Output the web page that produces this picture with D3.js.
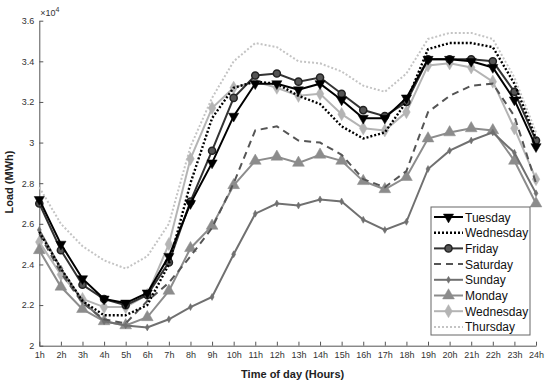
<!DOCTYPE html>
<html>
<head>
<meta charset="utf-8">
<script src="https://cdn.jsdelivr.net/npm/d3@7"></script>
<style>
  body { margin: 0; background: #fff; }
  svg { font-family: "Liberation Sans", Arial, sans-serif; }
  .axis path, .axis line { stroke: #555; }
  .axis text { fill: #333; font-size: 9px; }
  .axtitle { font-size: 11px; font-weight: bold; fill: #222; }
  .legtext { font-size: 12px; fill: #111; }
</style>
</head>
<body>
<svg id="chartsvg" width="550" height="383"></svg>
<script>
// hour labels along the x axis
var hours = ["1h","2h","3h","4h","5h","6h","7h","8h","9h","10h","11h","12h",
	"13h","14h","15h","16h","17h","18h","19h","20h","21h","22h","23h","24h"];
var yTicks = [2, 2.2, 2.4, 2.6, 2.8, 3, 3.2, 3.4, 3.6];

// load values in units of 10^4 MWh
var tuesday    = [2.72,2.50,2.33,2.23,2.21,2.26,2.44,2.70,2.90,3.13,3.29,3.29,3.26,3.29,3.21,3.12,3.12,3.22,3.41,3.41,3.40,3.37,3.21,2.98];
var wednesday  = [2.56,2.38,2.22,2.15,2.15,2.20,2.40,2.80,3.12,3.27,3.30,3.29,3.23,3.19,3.08,3.02,3.05,3.20,3.46,3.49,3.49,3.47,3.29,3.02];
var friday     = [2.70,2.47,2.30,2.23,2.20,2.25,2.41,2.71,2.96,3.22,3.33,3.34,3.30,3.32,3.24,3.16,3.13,3.20,3.41,3.41,3.41,3.40,3.25,3.01];
var saturday   = [2.55,2.36,2.21,2.13,2.11,2.22,2.31,2.44,2.58,2.80,3.06,3.08,3.01,3.00,2.94,2.82,2.78,2.86,3.15,3.23,3.28,3.29,3.13,2.80];
var sunday     = [2.57,2.38,2.22,2.12,2.10,2.09,2.13,2.19,2.24,2.45,2.65,2.70,2.69,2.72,2.71,2.62,2.57,2.61,2.87,2.96,3.01,3.05,2.95,2.75];
var monday     = [2.47,2.29,2.18,2.12,2.10,2.14,2.27,2.48,2.59,2.79,2.91,2.93,2.90,2.94,2.91,2.81,2.77,2.83,3.02,3.05,3.07,3.06,2.91,2.70];
var wednesday2 = [2.51,2.35,2.23,2.19,2.19,2.25,2.50,2.92,3.17,3.27,3.30,3.27,3.23,3.24,3.14,3.07,3.06,3.15,3.38,3.39,3.37,3.30,3.07,2.82];
var thursday   = [2.78,2.60,2.49,2.42,2.38,2.44,2.60,2.98,3.22,3.40,3.49,3.47,3.40,3.39,3.35,3.28,3.25,3.34,3.51,3.54,3.54,3.51,3.32,3.05];

var seriesNames = ["Tuesday","Wednesday","Friday","Saturday","Sunday","Monday","Wednesday","Thursday"];

// drawing style per series (same order as seriesNames)
var styles = [
	{data: tuesday,    color: "#000",    width: 2,   dash: null,  marker: "triDown", msize: 45, fill: "#000",    mstroke: "#000"},
	{data: wednesday,  color: "#000",    width: 2.4, dash: "2,2", marker: null},
	{data: friday,     color: "#333",    width: 2,   dash: null,  marker: "circle",  msize: 40, fill: "#555",    mstroke: "#222"},
	{data: saturday,   color: "#555",    width: 2,   dash: "7,5", marker: null},
	{data: sunday,     color: "#707070", width: 2,   dash: null,  marker: "plus",    msize: 14, fill: "#707070", mstroke: "#707070"},
	{data: monday,     color: "#8c8c8c", width: 2,   dash: null,  marker: "triUp",   msize: 60, fill: "#8c8c8c", mstroke: "#8c8c8c"},
	{data: wednesday2, color: "#b4b4b4", width: 2,   dash: null,  marker: "diamond", msize: 50, fill: "#b4b4b4", mstroke: "#b4b4b4"},
	{data: thursday,   color: "#c4c4c4", width: 2,   dash: "2,2", marker: null}
];

var svg = d3.select("#chartsvg");

var x = d3.scaleLinear().domain([1, 24]).range([39.3, 536]);
var y = d3.scaleLinear().domain([2, 3.6]).range([345.7, 20.7]);

// axes: ticks point inwards, no box
var xAxis = d3.axisBottom(x)
	.tickValues(d3.range(1, 25))
	.tickFormat(function(d) { return hours[d - 1]; })
	.tickSizeInner(-4).tickSizeOuter(0).tickPadding(6);
var yAxis = d3.axisLeft(y)
	.tickValues(yTicks)
	.tickFormat(d3.format("~g"))
	.tickSizeInner(-4).tickSizeOuter(0).tickPadding(5);

svg.append("g").attr("class", "axis")
	.attr("transform", "translate(0," + y(2) + ")")
	.call(xAxis);
svg.append("g").attr("class", "axis")
	.attr("transform", "translate(" + x(1) + ",0)")
	.call(yAxis);

// exponent label above the y axis
var expo = svg.append("text").attr("x", x(1) + 1).attr("y", 16)
	.style("font-size", "9px").style("fill", "#333");
expo.append("tspan").text("\u00d710");
expo.append("tspan").attr("dy", -4).style("font-size", "7px").text("4");

// axis titles
svg.append("text").attr("class", "axtitle")
	.attr("x", (x(1) + x(24)) / 2 + 5).attr("y", 378)
	.attr("text-anchor", "middle")
	.text("Time of day (Hours)");
svg.append("text").attr("class", "axtitle")
	.attr("transform", "translate(13," + 182 + ")rotate(-90)")
	.attr("text-anchor", "middle")
	.text("Load (MWh)");

function symbolFor(m, size) {
	if (m === "triDown" || m === "triUp") return d3.symbol().type(d3.symbolTriangle).size(size)();
	if (m === "circle") return d3.symbol().type(d3.symbolCircle).size(size)();
	if (m === "diamond") return d3.symbol().type(d3.symbolDiamond).size(size)();
	if (m === "plus") return d3.symbol().type(d3.symbolDiamond).size(size)();
	return null;
}

var line = d3.line()
	.x(function(d, i) { return x(i + 1); })
	.y(function(d) { return y(d); });

// draw in reverse so the dark series sit on top
var plot = svg.append("g").attr("class", "chart");
styles.slice().reverse().forEach(function(s) {
	var g = plot.append("g");
	g.append("path")
		.datum(s.data)
		.attr("fill", "none")
		.attr("stroke", s.color)
		.attr("stroke-width", s.width)
		.attr("stroke-dasharray", s.dash)
		.attr("d", line);
	if (s.marker) {
		var path = symbolFor(s.marker, s.msize);
		g.selectAll("path.mk").data(s.data).enter().append("path")
			.attr("class", "mk")
			.attr("d", path)
			.attr("fill", s.fill)
			.attr("stroke", s.mstroke)
			.attr("stroke-width", s.marker === "circle" ? 1.5 : 0.5)
			.attr("transform", function(d, i) {
				return "translate(" + x(i + 1) + "," + y(d) + ")" + (s.marker === "triDown" ? "rotate(180)" : "");
			});
	}
});

// legend
var leg = svg.append("g").attr("class", "legbox").attr("transform", "translate(431,207)");
leg.append("rect").attr("width", 99).attr("height", 128)
	.attr("fill", "#fff").attr("stroke", "#666").attr("stroke-width", 1);
styles.forEach(function(s, i) {
	var ly = 10 + i * 15.7;
	var row = leg.append("g").attr("transform", "translate(0," + ly + ")");
	row.append("line").attr("x1", 3).attr("x2", 32).attr("y1", 0).attr("y2", 0)
		.attr("stroke", s.color).attr("stroke-width", s.width)
		.attr("stroke-dasharray", s.dash);
	if (s.marker) {
		row.append("path").attr("d", symbolFor(s.marker, s.msize))
			.attr("fill", s.fill).attr("stroke", s.mstroke)
			.attr("stroke-width", s.marker === "circle" ? 1.5 : 0.5)
			.attr("transform", "translate(17.5,0)" + (s.marker === "triDown" ? "rotate(180)" : ""));
	}
	row.append("text").attr("class", "legtext").attr("x", 34).attr("y", 4.5).text(seriesNames[i]);
});
</script>
</body>
</html>
